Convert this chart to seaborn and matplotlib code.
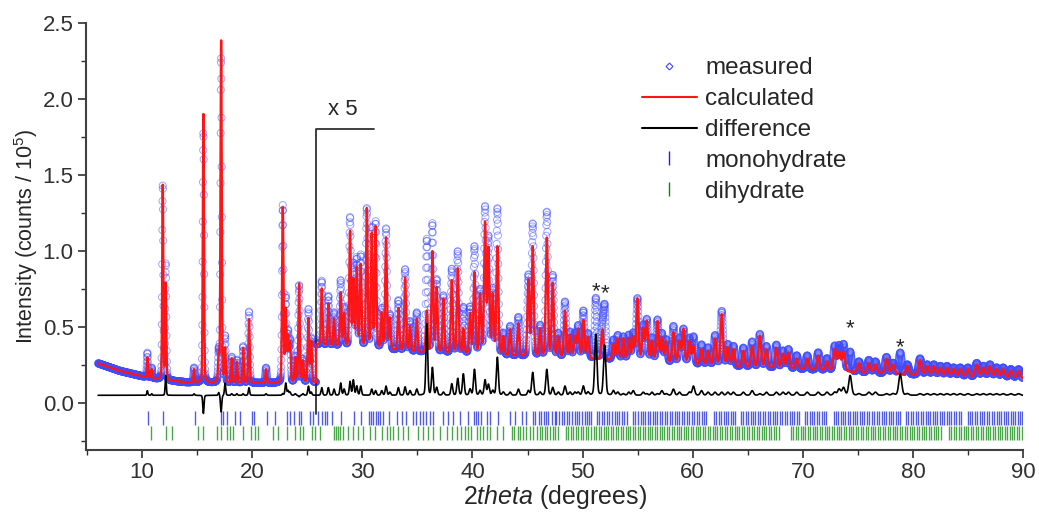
import numpy as np
import pandas as pd
import matplotlib
matplotlib.use("Agg")
import matplotlib.pyplot as plt
import seaborn as sns
from matplotlib.lines import Line2D
from matplotlib.ticker import MultipleLocator, FormatStrFormatter

# ---- data (displayed units; beyond 25.8 deg the
# pattern is shown x5) ----------------------------------------------------
BG_X = [6, 8, 10, 12, 14, 17, 20, 23, 25.79, 25.8, 30, 35, 40, 45, 50, 55,
        60, 65, 70, 75, 80, 85, 90]
BG_Y = [0.26, 0.21, 0.175, 0.15, 0.135, 0.13, 0.13, 0.13, 0.13, 0.38, 0.36,
        0.33, 0.315, 0.30, 0.29, 0.27, 0.25, 0.235, 0.22, 0.20, 0.185, 0.17,
        0.16]

PEAK_POS = [10.47, 10.87, 11.87, 12.14, 14.71, 15.56, 16.95, 17.17, 17.53,
            18.13, 18.6, 19.17, 19.7, 21.25, 22.77, 23.04, 23.25, 23.43,
            23.9, 24.25, 24.6, 25.1, 25.35,
            26.31, 26.91, 27.43, 28.03, 28.34, 28.88, 29.18, 29.49, 29.85,
            30.4, 30.85, 31.2, 31.76, 32.15, 32.5, 33.27, 33.88, 34.33,
            34.94, 35.85, 36.36, 36.75, 37.36, 38.12, 38.66, 39.17, 39.78,
            40.18, 40.69, 41.14, 41.45, 41.84, 42.26, 42.8, 43.42, 44.17,
            45.08, 45.47, 46.14, 46.75, 47.29, 47.8, 48.4,
            48.86, 49.3, 49.6, 50.07, 50.5, 51.8, 52.8, 53.2, 53.7, 54.2,
            54.6, 54.98, 55.5, 55.83, 56.3, 56.8, 57.2, 57.6, 58.25, 58.8,
            59.16, 59.7, 60.07, 60.8, 61.4, 62.03, 62.64, 63.2, 63.7, 64.6,
            65.4, 66.1, 66.7, 67.6, 68.2, 68.7, 69.45, 70.4, 71.4, 72.2,
            72.9, 73.3, 73.7, 75.1, 76.0, 76.6, 77.6, 78.2, 79.5, 80.65,
            81.3, 81.9, 82.5, 83.1, 83.7, 84.3, 85.0, 85.8, 86.4, 87.0,
            87.6, 88.2, 88.9, 89.6]
OBS_TOP = [0.33, 0.23, 1.43, 0.91, 0.23, 1.78, 0.33, 2.27, 0.43,
           0.30, 0.28, 0.37, 0.60, 0.23, 1.29, 0.68, 0.45, 0.40,
           0.30, 0.77, 0.28, 0.61, 0.42,
           0.80, 0.70, 0.59, 0.80, 0.62, 1.21, 0.90, 0.94, 0.96,
           1.27, 1.14, 1.18, 0.61, 1.14, 0.57, 0.67, 0.875, 0.53,
           0.59, 1.07, 1.17, 0.80, 0.70, 0.875, 0.99, 0.62, 0.62,
           1.02, 0.73, 1.27, 1.07, 0.73, 1.27, 0.45, 0.50, 0.56,
           0.83, 1.17, 0.50, 1.25, 0.83, 0.45, 0.66,
           0.46, 0.45, 0.50, 0.60, 0.45, 0.48, 0.41, 0.44, 0.43, 0.44,
           0.45, 0.68, 0.50, 0.54, 0.42, 0.54, 0.45, 0.41, 0.50, 0.42,
           0.48, 0.42, 0.43, 0.38, 0.36, 0.44, 0.60, 0.38, 0.37, 0.36,
           0.40, 0.45, 0.37, 0.38, 0.34, 0.35, 0.31, 0.31, 0.33, 0.29,
           0.37, 0.37, 0.38, 0.27, 0.28, 0.27, 0.30, 0.26, 0.25, 0.29,
           0.25, 0.25, 0.24, 0.24, 0.23, 0.23, 0.23, 0.26, 0.24, 0.25,
           0.23, 0.23, 0.22, 0.22]
CALC_TOP = [0.30, 0.22, 1.43, 0.78, 0.22, 1.90, 0.31, 2.38, 0.35,
            0.29, 0.27, 0.36, 0.55, 0.22, 1.28, 0.60, 0.42, 0.38,
            0.29, 0.78, 0.27, 0.55, 0.40,
            0.75, 0.65, 0.55, 0.72, 0.58, 1.12, 0.80, 0.88, 0.90,
            1.27, 1.10, 1.15, 0.58, 1.08, 0.55, 0.62, 0.82, 0.50,
            0.55, 0.60, 0.99, 0.75, 0.68, 0.80, 0.88, 0.48, 0.58,
            0.85, 0.70, 1.17, 1.00, 0.70, 1.02, 0.43, 0.48, 0.52,
            0.80, 1.02, 0.48, 1.08, 0.78, 0.43, 0.60,
            0.44, 0.43, 0.48, 0.54, 0.43, 0.48, 0.38, 0.42, 0.42, 0.42,
            0.42, 0.68, 0.48, 0.53, 0.40, 0.53, 0.42, 0.40, 0.46, 0.40,
            0.48, 0.40, 0.37, 0.35, 0.34, 0.42, 0.58, 0.36, 0.35, 0.34,
            0.37, 0.44, 0.35, 0.36, 0.32, 0.33, 0.29, 0.29, 0.31, 0.27,
            0.35, 0.33, 0.33, 0.26, 0.26, 0.25, 0.29, 0.25, 0.24, 0.28,
            0.24, 0.24, 0.23, 0.23, 0.22, 0.22, 0.22, 0.25, 0.23, 0.24,
            0.22, 0.22, 0.21, 0.21]

# impurity reflections (marked *) seen only in the measured pattern
IMPURITY_POS = [51.2, 52.0, 74.3, 78.85]
IMPURITY_HT = [0.40, 0.33, 0.13, 0.14]
STAR_Y = [0.73, 0.72, 0.49, 0.36]

MONO_TICKS = [
    10.57, 11.87, 14.8, 17.17, 17.38, 17.68, 18.44, 18.9, 20.0, 20.2, 21.3,
    22.07, 23.13, 23.43, 23.8, 24.2, 24.4, 25.25, 25.5, 26.0, 26.3, 26.6,
    26.8, 27.25, 28.1, 29.2, 29.9, 30.6, 30.8, 31.0, 31.2, 31.4, 31.6, 31.9,
    32.4, 33.1, 33.6, 34.0, 34.6, 34.9, 35.2, 35.5, 35.8, 36.1, 36.4, 37.3,
    37.8, 38.2, 38.9, 39.6, 40.1, 40.3, 40.5, 40.8, 41.3, 41.6, 42.35, 43.4,
    43.9, 44.5, 44.9, 45.5, 45.65, 46.0, 46.2, 46.45, 46.7, 46.9, 47.2,
    47.45, 47.6, 47.9, 48.1, 48.3, 48.6, 48.8, 49.0, 49.3, 49.5, 49.7,
    49.95, 50.2, 50.4, 50.6, 50.8, 51.3, 51.5, 51.75, 51.9, 52.2, 52.4,
    52.65, 52.9, 53.1, 53.35, 53.6, 53.8, 54.0, 54.6, 54.8, 55.05, 55.3,
    55.5, 55.7, 55.95, 56.15, 56.4, 56.6, 56.8, 57.05, 57.25, 57.5, 57.7,
    57.9, 58.15, 58.35, 58.6, 58.8, 59.0, 59.25, 59.45, 59.7, 59.9, 60.1,
    60.35, 60.55, 60.8, 61.0, 61.2, 61.9, 62.1, 62.35, 62.55, 62.8, 63.0,
    63.2, 63.45, 63.65, 63.85, 64.4, 64.6, 64.85, 65.05, 65.3, 65.5, 65.7,
    65.95, 66.15, 66.35, 66.6, 66.8, 67.0, 67.25, 67.45, 67.7, 67.9, 68.1,
    68.35, 68.55, 68.8, 69.0, 69.2, 69.45, 69.65, 70.2, 70.4, 70.65, 70.85,
    71.05, 71.3, 71.5, 71.7, 71.95, 72.15, 72.8, 73.0, 73.2, 73.45, 73.65,
    73.85, 74.1, 74.3, 74.55, 74.75, 74.95, 75.2, 75.4, 75.6, 75.85, 76.05,
    76.25, 76.5, 76.7, 76.9, 77.15, 77.35, 77.55, 77.8, 78.0, 78.2, 78.45,
    78.65, 78.85, 79.4, 79.6, 79.85, 80.05, 80.25, 80.5, 80.7, 80.9, 81.15,
    81.35, 81.55, 81.8, 82.0, 82.2, 82.45, 82.65, 82.85, 83.1, 83.3, 83.5,
    83.75, 83.95, 84.15, 84.4, 85.0, 85.2, 85.4, 85.65, 85.85, 86.05, 86.3,
    86.5, 86.7, 86.95, 87.15, 87.35, 87.6, 87.8, 88.0, 88.25, 88.45, 88.65,
    88.9, 89.1, 89.3, 89.55, 89.75, 89.95]

DI_TICKS = [
    10.81, 12.17, 12.69, 15.1, 15.56, 16.77, 17.17, 17.74, 17.98, 18.23,
    19.2, 19.89, 20.25, 20.56, 21.92, 22.37, 23.13, 23.89, 24.34, 24.64,
    25.4, 25.7, 26.16, 27.4, 27.6, 27.8, 28.0, 28.2, 28.73, 29.19, 29.64,
    30.1, 30.7, 31.15, 31.76, 32.2, 32.5, 32.8, 33.27, 33.72, 34.18, 35.09,
    35.54, 36.0, 36.45, 37.06, 37.67, 38.12, 38.57, 39.0, 39.3, 39.6, 39.9,
    40.4, 40.7, 41.0, 41.3, 41.6, 42.2, 42.8, 43.6, 43.8, 44.1, 44.3, 44.6,
    44.9, 45.2, 45.5, 45.9, 46.1, 46.35, 46.55, 46.8, 47.05, 47.3, 47.5,
    47.75, 48.5, 48.7, 48.95, 49.15, 49.4, 49.6, 49.85, 50.05, 50.3, 50.5,
    50.75, 51.0, 51.2, 51.45, 51.65, 51.9, 52.1, 52.3, 52.55, 52.75, 53.0,
    53.2, 53.45, 53.65, 53.9, 54.1, 54.35, 54.55, 54.75, 55.0, 55.2, 55.45,
    55.65, 55.9, 56.1, 56.3, 56.55, 56.75, 57.0, 57.2, 57.4, 57.65, 57.85,
    58.1, 58.3, 58.55, 58.75, 58.95, 59.2, 59.4, 59.6, 59.85, 60.05, 60.3,
    60.5, 60.7, 60.95, 61.15, 61.4, 61.6, 61.85, 62.05, 62.25, 62.5, 62.7,
    62.95, 63.15, 63.35, 63.6, 63.8, 64.05, 64.25, 64.5, 64.7, 64.9, 65.15,
    65.35, 65.6, 65.8, 66.0, 66.25, 66.45, 66.7, 66.9, 67.1, 67.35, 67.55,
    67.8, 68.9, 69.1, 69.35, 69.55, 69.8, 70.0, 70.2, 70.45, 70.65, 70.9,
    71.1, 71.3, 71.55, 71.75, 72.0, 72.2, 72.4, 72.65, 72.85, 73.1, 73.3,
    73.5, 73.75, 73.95, 74.2, 74.4, 74.6, 74.85, 75.05, 75.3, 75.5, 75.7,
    75.95, 76.15, 76.4, 76.6, 76.8, 77.05, 77.25, 77.5, 77.7, 77.9, 78.15,
    78.35, 78.6, 78.8, 79.0, 79.25, 79.45, 79.7, 79.9, 80.1, 80.35, 80.55,
    80.8, 81.0, 81.2, 81.45, 81.65, 81.9, 82.1, 82.3, 82.55, 83.3, 83.5,
    83.7, 83.95, 84.15, 84.4, 84.6, 84.8, 85.05, 85.25, 85.5, 85.7, 85.9,
    86.15, 86.35, 86.6, 86.8, 87.0, 87.25, 87.45, 87.7, 87.9, 88.1, 88.35,
    88.55, 88.8, 89.0, 89.2, 89.45, 89.65, 89.9]

DIFF_OFFSET = 0.05
SCALE_START = 25.8


def pattern(x, pos, top, extra_pos=(), extra_ht=()):
    pos = np.asarray(pos, float)
    extra_pos = np.asarray(extra_pos, float)
    amp = np.asarray(top) - np.interp(pos, BG_X, BG_Y)
    allpos = np.concatenate([pos, extra_pos])
    allamp = np.concatenate([amp, np.asarray(extra_ht, float)])
    fwhm = 0.08 + 0.003 * allpos
    d = (x[:, None] - allpos[None, :]) / (fwhm[None, :] / 2)
    prof = 0.8 * np.exp(-np.log(2) * d ** 2) + 0.2 / (1 + d ** 2)
    return np.interp(x, BG_X, BG_Y) + (prof * allamp[None, :]).sum(axis=1)


x_obs = np.arange(6.0, 90.0, 0.015)
y_obs = pattern(x_obs, PEAK_POS, OBS_TOP, IMPURITY_POS, IMPURITY_HT)
y_calc_obs = pattern(x_obs, PEAK_POS, CALC_TOP)
x_fine = np.arange(6.0, 90.0, 0.005)
y_calc = pattern(x_fine, PEAK_POS, CALC_TOP)

obs = pd.DataFrame({"two_theta": x_obs, "intensity": y_obs,
                    "diff": y_obs - y_calc_obs + DIFF_OFFSET})
calc = pd.DataFrame({"two_theta": x_fine, "intensity": y_calc})

sns.set_theme(style="ticks")
plt.rcParams["font.family"] = ["Liberation Sans", "DejaVu Sans"]
plt.rcParams["mathtext.fontset"] = "custom"
plt.rcParams["mathtext.rm"] = "Liberation Sans"
plt.rcParams["mathtext.it"] = "Liberation Sans:italic"

fig = plt.figure(figsize=(10.39, 5.12), dpi=100)
ax = fig.add_axes([0.0828, 0.1211, 0.9018, 0.834])

blue = "#3f4cff"
red = "#ff1515"
mono_col = "#1626d8"
di_col = "#0b870b"

sns.scatterplot(data=obs, x="two_theta", y="intensity", ax=ax, marker="o",
                s=26, facecolor="none", edgecolor=blue, linewidth=0.7,
                alpha=0.5, legend=False, zorder=2)
sns.lineplot(data=calc, x="two_theta", y="intensity", ax=ax, color=red,
             lw=1.7, estimator=None, sort=False, zorder=3)
sns.lineplot(data=obs, x="two_theta", y="diff", ax=ax, color="black",
             lw=1.2, estimator=None, sort=False, zorder=3)

ax.vlines(MONO_TICKS, -0.145, -0.055, color=mono_col, lw=1.0, alpha=0.75)
ax.vlines(DI_TICKS, -0.245, -0.155, color=di_col, lw=1.0, alpha=0.75)

# x5 marker
ax.plot([SCALE_START, SCALE_START, 31.06], [-0.07, 1.80, 1.80],
        color="#303030", lw=1.3)
ax.text(28.2, 1.93, "x 5", fontsize=16, ha="center", va="center")

for sx, sy in zip(IMPURITY_POS, STAR_Y):
    ax.text(sx, sy, "*", fontsize=16, ha="center", va="center")

ax.set_xlim(4.9, 90)
ax.set_ylim(-0.31, 2.5)
ax.set_xticks([10, 20, 30, 40, 50, 60, 70, 80, 90])
ax.set_yticks([0.0, 0.5, 1.0, 1.5, 2.0, 2.5])
ax.xaxis.set_minor_locator(MultipleLocator(5))
ax.yaxis.set_minor_locator(MultipleLocator(0.25))
ax.yaxis.set_major_formatter(FormatStrFormatter("%.1f"))
ax.tick_params(which="major", direction="out", length=6, width=1.2,
               labelsize=16, colors="#303030")
ax.tick_params(which="minor", direction="out", length=3.5, width=1.0,
               colors="#303030")
ax.tick_params(axis="x", pad=3)
ax.tick_params(axis="y", pad=3)
for s in ["top", "right"]:
    ax.spines[s].set_visible(False)
for s in ["left", "bottom"]:
    ax.spines[s].set_linewidth(1.5)
    ax.spines[s].set_color("#404040")

ax.set_xlabel(r"$\mathit{2theta}$ (degrees)", fontsize=18, labelpad=0)
ax.set_ylabel(r"Intensity (counts / 10$^5$)", fontsize=15.5, labelpad=2)

handles = [
    Line2D([], [], ls="none", marker="D", ms=3.5, mfc="none", mec=blue,
           mew=0.8),
    Line2D([], [], color=red, lw=1.5),
    Line2D([], [], color="black", lw=1.5),
    Line2D([], [], ls="none", marker="|", ms=10, color=mono_col, mew=1.0),
    Line2D([], [], ls="none", marker="|", ms=10, color=di_col, mew=1.0),
]
labels = ["measured", "calculated", "difference", "monohydrate", "dihydrate"]
ax.legend(handles, labels, loc="upper left", bbox_to_anchor=(0.583, 0.942),
          frameon=False, fontsize=17.5, handlelength=2.26, handletextpad=0.33,
          labelspacing=0.36, borderaxespad=0)

fig.savefig("out.png", dpi=100)
